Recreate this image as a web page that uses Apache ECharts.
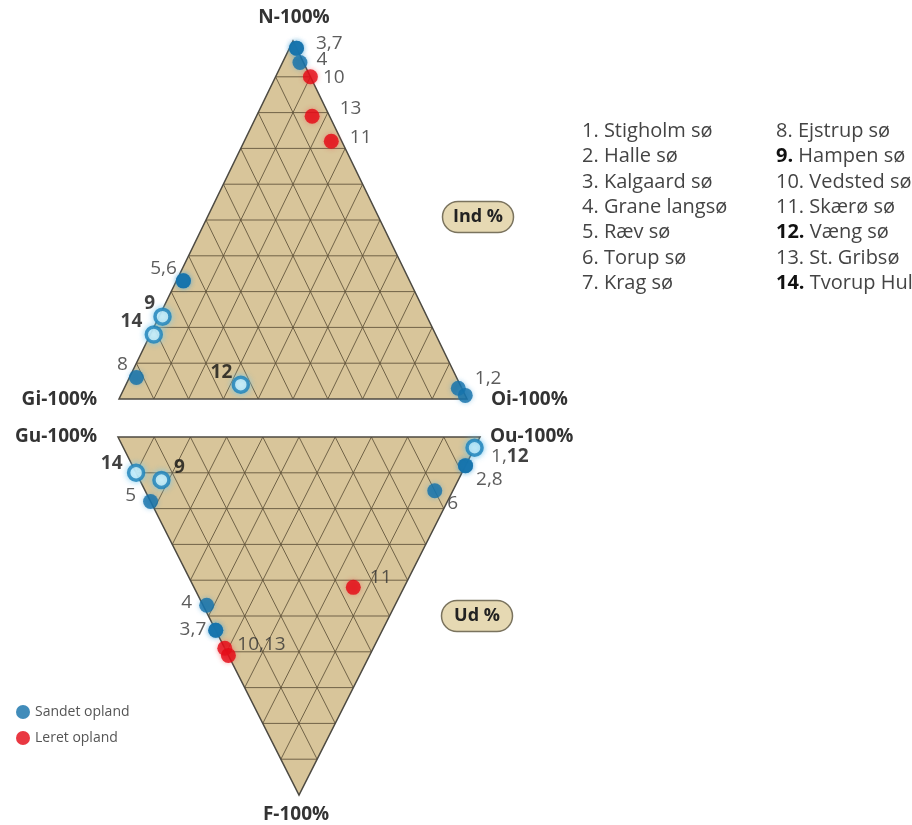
<!DOCTYPE html>
<html>
<head>
<meta charset="utf-8">
<script src="https://cdn.jsdelivr.net/npm/echarts@6/dist/echarts.min.js"></script>
<style>
  html, body { margin: 0; padding: 0; background: #fff; }
  #chart { width: 912px; height: 825px; }
</style>
</head>
<body>
<div id="chart"></div>
<script>
// lakes 1..14
const lakeNames = ['Stigholm sø', 'Halle sø', 'Kalgaard sø', 'Grane langsø', 'Ræv sø', 'Torup sø', 'Krag sø',
  'Ejstrup sø', 'Hampen sø', 'Vedsted sø', 'Skærø sø', 'Væng sø', 'St. Gribsø', 'Tvorup Hul']
const sandLakes = [1, 2, 3, 4, 5, 6, 7, 8]   // Sandet opland
const clayLakes = [10, 11, 13]               // Leret opland
const boldLakes = [9, 12, 14]                // sandet, vist med ring

// Ind % (upper triangle), per lake 1..14
const indN = [3, 1, 98, 94, 33, 33, 98, 6, 23, 90, 72, 4, 79, 18]
const indOi = [96, 99, 2, 5, 2, 2, 2, 2, 1, 10, 25, 33, 16, 1]
const indGi = [1, 0, 0, 1, 65, 65, 0, 92, 76, 0, 3, 63, 5, 81]

// Ud % (lower triangle), per lake 1..14
const udF = [3, 8, 54, 47, 18, 15, 54, 8, 12, 59, 42, 3, 61, 10]
const udOu = [97, 92, 0, 1, 0, 80, 0, 92, 6, 0, 44, 97, 0, 0]
const udGu = [0, 0, 46, 52, 82, 5, 46, 0, 82, 41, 14, 0, 39, 90]

const gridTicks = [10, 20, 30, 40, 50, 60, 70, 80, 90]

// point labels and the lake they sit next to
const indLabels = ['3,7', '4', '10', '13', '11', '5,6', '9', '14', '8', '12', '1,2']
const indLabelLake = [3, 4, 10, 13, 11, 5, 9, 14, 8, 12, 1]
const udLabels = ['1,12', '2,8', '6', '11', '4', '3,7', '10,13', '5', '9', '14']
const udLabelLake = [12, 2, 6, 11, 4, 3, 10, 5, 9, 14]

// label placement (px from dot centre, alignment)
const indLabelPos = {
  '3,7': [20, -4, 'left'], '4': [17, -2, 'left'], '10': [13, 1, 'left'], '13': [28, -7, 'left'],
  '11': [19, -3, 'left'], '5,6': [-6, -12, 'right'], '9': [-7, -13, 'right'], '14': [-11, -12, 'right'],
  '8': [-8, -12, 'right'], '12': [-8, -12, 'right'], '1,2': [17, -9, 'left']
}
const udLabelPos = {
  '1,12': [17, 9, 'left'], '2,8': [11, 14, 'left'], '6': [13, 13, 'left'], '11': [17, -9, 'left'],
  '4': [-14, -2, 'right'], '3,7': [-9, 0, 'right'], '10,13': [13, -3, 'left'], '5': [-14, -5, 'right'],
  '9': [13, -12, 'left'], '14': [-13, -9, 'right']
}

const FONT = '"Open Sans", sans-serif'
const BLUE = '#126fa9'
const RED = '#e30613'

// ternary -> cartesian (base 0..100, height 0..100)
function indXY (lake) {
  const i = lake - 1
  return [indOi[i] + indN[i] / 2, indN[i]]
}
function udXY (lake) {
  const i = lake - 1
  return [udOu[i] + udF[i] / 2, udF[i]]
}

function ternaryLines (ticks) {
  const out = []
  ticks.forEach(function (t) {
    out.push([t / 2, t, 100 - t / 2, t])
    out.push([t, 0, t + (100 - t) / 2, 100 - t])
    out.push([100 - t, 0, (100 - t) / 2, 100 - t])
  })
  return out
}

function triangleSeries (idx) {
  return {
    type: 'custom', xAxisIndex: idx, yAxisIndex: idx, silent: true, z: 1,
    encode: { x: [0, 2, 4], y: [1, 3, 5] },
    data: [[0, 0, 100, 0, 50, 100]],
    renderItem: function (params, api) {
      const pts = [0, 2, 4].map(function (k) { return api.coord([api.value(k), api.value(k + 1)]) })
      return { type: 'polygon', shape: { points: pts }, style: { fill: '#d8c59a', stroke: 'none' } }
    }
  }
}
function outlineSeries (idx) {
  return {
    type: 'custom', xAxisIndex: idx, yAxisIndex: idx, silent: true, z: 3,
    encode: { x: [0, 2, 4], y: [1, 3, 5] },
    data: [[0, 0, 100, 0, 50, 100]],
    renderItem: function (params, api) {
      const pts = [0, 2, 4].map(function (k) { return api.coord([api.value(k), api.value(k + 1)]) })
      return { type: 'polygon', shape: { points: pts }, style: { fill: 'none', stroke: '#4d4a42', lineWidth: 1.5 } }
    }
  }
}
function gridLineSeries (idx) {
  return {
    type: 'custom', xAxisIndex: idx, yAxisIndex: idx, silent: true, z: 2,
    encode: { x: [0, 2], y: [1, 3] },
    data: ternaryLines(gridTicks),
    renderItem: function (params, api) {
      const a = api.coord([api.value(0), api.value(1)])
      const b = api.coord([api.value(2), api.value(3)])
      return {
        type: 'line',
        shape: { x1: a[0], y1: a[1], x2: b[0], y2: b[1] },
        style: { stroke: '#5e5138', lineWidth: 1, opacity: 0.85 }
      }
    }
  }
}

function pointSeries (name, lakes, toXY, idx, style) {
  return {
    name: name, type: 'scatter', xAxisIndex: idx, yAxisIndex: idx, z: 4,
    symbol: 'circle', symbolSize: 15, itemStyle: style,
    data: lakes.map(toXY)
  }
}

function richLabel (t) {
  return t.split(',').map(function (p) {
    return boldLakes.indexOf(+p) >= 0 ? '{b|' + p + '}' : p
  }).join(',')
}

function labelSeries (labels, anchors, pos, toXY, idx) {
  return {
    type: 'scatter', xAxisIndex: idx, yAxisIndex: idx, z: 6, silent: true,
    symbolSize: 1, itemStyle: { color: 'rgba(0,0,0,0)' },
    label: {
      show: true, fontFamily: FONT, fontSize: 19, color: '#333',
      rich: { b: { fontFamily: FONT, fontSize: 19, fontWeight: 'bold', color: '#111' } }
    },
    data: labels.map(function (t, k) {
      const o = pos[t]
      return {
        value: toXY(anchors[k]),
        label: { position: [o[0], o[1]], align: o[2], verticalAlign: 'middle', formatter: richLabel(t) }
      }
    })
  }
}

const blueStyle = { color: BLUE, shadowBlur: 5, shadowColor: 'rgba(70,160,215,0.6)' }
const redStyle = { color: RED, shadowBlur: 5, shadowColor: 'rgba(240,80,80,0.6)' }
const ringStyle = { color: '#e6fbff', borderColor: '#1a7fb8', borderWidth: 3.5, shadowBlur: 6, shadowColor: 'rgba(110,200,240,0.9)' }

// graphic texts
const vertexFont = 'bold 19px ' + FONT
const graphics = [
  { type: 'text', style: { text: 'N-100%', x: 294, y: 18, align: 'center', verticalAlign: 'middle', font: vertexFont, fill: '#333' } },
  { type: 'text', style: { text: 'Gi-100%', x: 97, y: 400, align: 'right', verticalAlign: 'middle', font: vertexFont, fill: '#333' } },
  { type: 'text', style: { text: 'Oi-100%', x: 491, y: 400, align: 'left', verticalAlign: 'middle', font: vertexFont, fill: '#333' } },
  { type: 'text', style: { text: 'Gu-100%', x: 97, y: 437, align: 'right', verticalAlign: 'middle', font: vertexFont, fill: '#333' } },
  { type: 'text', style: { text: 'Ou-100%', x: 490, y: 437, align: 'left', verticalAlign: 'middle', font: vertexFont, fill: '#333' } },
  { type: 'text', style: { text: 'F-100%', x: 296, y: 815, align: 'center', verticalAlign: 'middle', font: vertexFont, fill: '#333' } }
]
function pill (text, cx, cy) {
  return {
    type: 'group',
    children: [
      { type: 'rect', shape: { x: cx - 35.5, y: cy - 15.5, width: 71, height: 31, r: 15.5 }, style: { fill: '#e6d9b3', stroke: '#7a735e', lineWidth: 1.5 } },
      { type: 'text', style: { text: text, x: cx, y: cy, align: 'center', verticalAlign: 'middle', font: 'bold 18px ' + FONT, fill: '#222' } }
    ]
  }
}
graphics.push(pill('Ind %', 478, 217))
graphics.push(pill('Ud %', 477, 616))

lakeNames.forEach(function (name, i) {
  const col = i < 7 ? 0 : 1
  const row = i % 7
  const num = boldLakes.indexOf(i + 1) >= 0 ? '{b|' + (i + 1) + '.}' : (i + 1) + '.'
  graphics.push({
    type: 'text',
    style: {
      text: num + ' ' + name,
      x: col === 0 ? 582 : 776,
      y: 131 + row * 25.4,
      verticalAlign: 'middle',
      font: '20px ' + FONT,
      fill: '#444',
      rich: { b: { fontFamily: FONT, fontSize: 20, fontWeight: 'bold', fill: '#111' } }
    }
  })
})

const chart = echarts.init(document.getElementById('chart'))
chart.setOption({
  animation: false,
  backgroundColor: '#fff',
  grid: [
    { left: 119, top: 41, width: 348, height: 358 },
    { left: 118, top: 437, width: 362, height: 358 }
  ],
  xAxis: [
    { gridIndex: 0, type: 'value', min: 0, max: 100, show: false },
    { gridIndex: 1, type: 'value', min: 0, max: 100, show: false }
  ],
  yAxis: [
    { gridIndex: 0, type: 'value', min: 0, max: 100, show: false },
    { gridIndex: 1, type: 'value', min: 0, max: 100, inverse: true, show: false }
  ],
  legend: {
    left: 11, top: 700, orient: 'vertical', itemWidth: 14, itemHeight: 14, itemGap: 12,
    icon: 'circle', selectedMode: false,
    data: ['Sandet opland', 'Leret opland'],
    textStyle: { fontFamily: FONT, fontSize: 14, color: '#555', padding: [0, 0, 0, 0] }
  },
  graphic: graphics,
  series: [
    triangleSeries(0), gridLineSeries(0), outlineSeries(0),
    triangleSeries(1), gridLineSeries(1), outlineSeries(1),
    pointSeries('Sandet opland', sandLakes, indXY, 0, blueStyle),
    pointSeries('Leret opland', clayLakes, indXY, 0, redStyle),
    pointSeries('ring', boldLakes, indXY, 0, ringStyle),
    pointSeries('Sandet opland', sandLakes, udXY, 1, blueStyle),
    pointSeries('Leret opland', clayLakes, udXY, 1, redStyle),
    pointSeries('ring', boldLakes, udXY, 1, ringStyle),
    labelSeries(indLabels, indLabelLake, indLabelPos, indXY, 0),
    labelSeries(udLabels, udLabelLake, udLabelPos, udXY, 1)
  ]
})
</script>
</body>
</html>
